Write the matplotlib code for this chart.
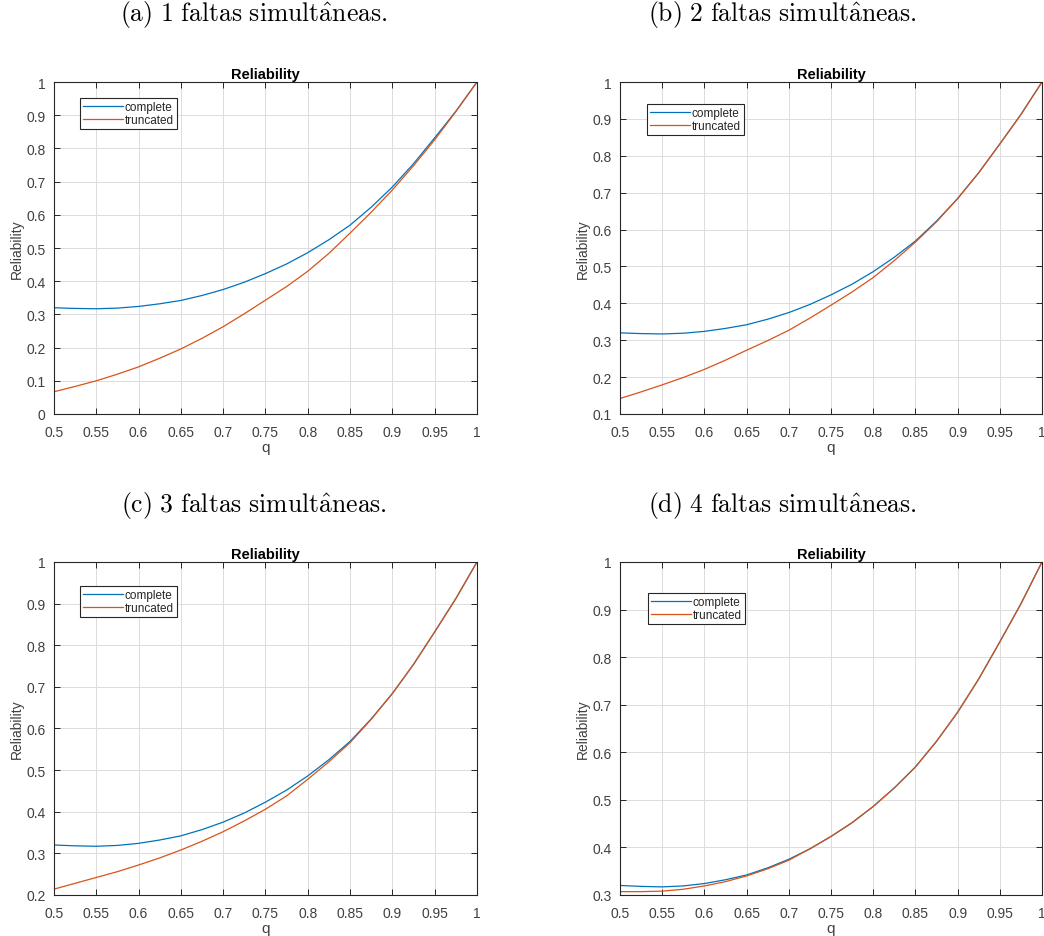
import matplotlib
matplotlib.use("Agg")
from matplotlib import pyplot as plt

plt.rcParams['font.family'] = ['Liberation Sans', 'DejaVu Sans']
plt.rcParams['mathtext.fontset'] = 'cm'

# values
q = [0.5, 0.525, 0.55, 0.575, 0.6, 0.625, 0.65, 0.675, 0.7, 0.725, 0.75,
     0.775, 0.8, 0.825, 0.85, 0.875, 0.9, 0.925, 0.95, 0.975, 1.0]

complete = [0.320, 0.318, 0.317, 0.319, 0.324, 0.332, 0.342, 0.357, 0.375, 0.397, 0.423,
            0.452, 0.486, 0.525, 0.569, 0.623, 0.684, 0.754, 0.832, 0.912, 1.0]

trunc_1 = [0.067, 0.083, 0.100, 0.120, 0.142, 0.168, 0.196, 0.228, 0.263, 0.302, 0.343,
           0.384, 0.430, 0.484, 0.545, 0.608, 0.675, 0.748, 0.826, 0.911, 1.0]
trunc_2 = [0.142, 0.160, 0.179, 0.199, 0.221, 0.246, 0.273, 0.299, 0.327, 0.360, 0.395,
           0.431, 0.470, 0.516, 0.566, 0.621, 0.684, 0.754, 0.832, 0.912, 1.0]
trunc_3 = [0.214, 0.228, 0.242, 0.256, 0.272, 0.289, 0.308, 0.329, 0.352, 0.378, 0.406,
           0.438, 0.478, 0.520, 0.566, 0.622, 0.684, 0.754, 0.832, 0.912, 1.0]
trunc_4 = [0.307, 0.307, 0.308, 0.312, 0.319, 0.328, 0.340, 0.355, 0.373, 0.397, 0.423,
           0.452, 0.486, 0.525, 0.569, 0.623, 0.684, 0.754, 0.832, 0.912, 1.0]

captions = [r'$\mathrm{(a)\ 1\ faltas\ simult\hat{a}neas.}$',
            r'$\mathrm{(b)\ 2\ faltas\ simult\hat{a}neas.}$',
            r'$\mathrm{(c)\ 3\ faltas\ simult\hat{a}neas.}$',
            r'$\mathrm{(d)\ 4\ faltas\ simult\hat{a}neas.}$']
truncs = [trunc_1, trunc_2, trunc_3, trunc_4]
y_bottoms = [0.0, 0.1, 0.2, 0.3]
x_ticks = [0.5, 0.55, 0.6, 0.65, 0.7, 0.75, 0.8, 0.85, 0.9, 0.95, 1.0]
x_labels = ['0.5', '0.55', '0.6', '0.65', '0.7', '0.75', '0.8', '0.85', '0.9', '0.95', '1']

blue = '#0072BD'
orange = '#D95319'
dark = '#262626'
tick_col = '#404040'

fig = plt.figure(figsize=(10.44, 9.37), dpi=100)

# axes boxes in figure fractions (left, bottom, width, height)
boxes = [(0.0517, 0.5571, 0.4052, 0.3543),
         (0.5939, 0.5571, 0.4042, 0.3543),
         (0.0517, 0.0438, 0.4052, 0.3554),
         (0.5939, 0.0438, 0.4042, 0.3554)]
legend_pos = [(0.061, 0.952), (0.064, 0.934), (0.061, 0.928), (0.066, 0.907)]
caption_pos = [(0.243, 0.985), (0.749, 0.985), (0.243, 0.461), (0.749, 0.461)]

for i in range(4):
    ax = fig.add_axes(boxes[i])
    ax.plot(q, complete, color=blue, linewidth=0.9, label='complete')
    ax.plot(q, truncs[i], color=orange, linewidth=0.9, label='truncated')

    ax.set_xlim(0.5, 1.0)
    ax.set_ylim(y_bottoms[i], 1.0)
    ax.set_xticks(x_ticks)
    ax.set_xticklabels(x_labels)
    yt = [round(y_bottoms[i] + 0.1 * k, 1) for k in range(int(round((1 - y_bottoms[i]) * 10)) + 1)]
    ax.set_yticks(yt)
    ax.set_yticklabels(['%g' % v for v in yt])

    ax.grid(True, color='#dcdcdc', linewidth=0.7)
    ax.set_axisbelow(True)
    ax.tick_params(direction='in', length=4, width=0.7, top=True, right=True,
                   labelsize=10, colors=dark, labelcolor=tick_col)
    ax.tick_params(axis='x', pad=8)
    ax.tick_params(axis='y', pad=6)
    for s in ax.spines.values():
        s.set_color(dark)
        s.set_linewidth(0.8)

    ax.set_title('Reliability', fontsize=10.5, fontweight='bold', color='black', pad=3)
    ax.set_xlabel('q', fontsize=11, color=tick_col, labelpad=1)
    ax.set_ylabel('Reliability', fontsize=10, color=tick_col, labelpad=2)

    leg = ax.legend(loc='upper left', bbox_to_anchor=legend_pos[i], fontsize=8.5,
                    frameon=True, fancybox=False, framealpha=1, edgecolor=dark,
                    handlelength=3.4, handletextpad=0.15, borderpad=0.25,
                    labelspacing=0.1, borderaxespad=0)
    leg.get_frame().set_linewidth(0.8)
    for t in leg.get_texts():
        t.set_color(dark)

    fig.text(caption_pos[i][0], caption_pos[i][1], captions[i], fontsize=18.5,
             ha='center', va='center')

plt.savefig('out.png', dpi=100)
